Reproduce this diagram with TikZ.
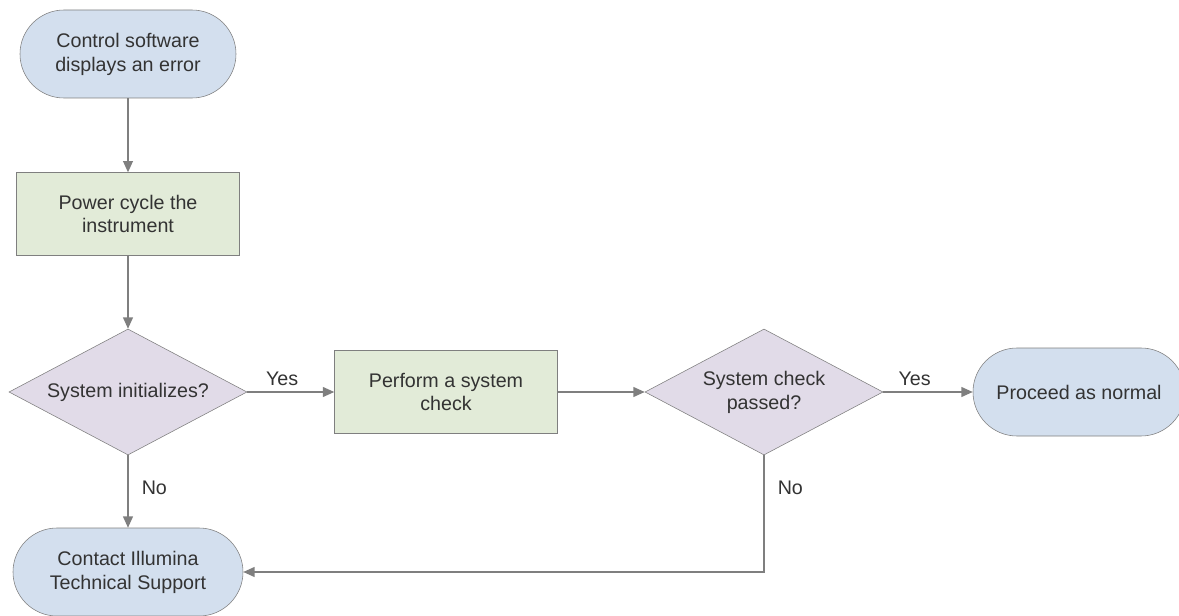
\documentclass[tikz,border=0pt]{standalone}
\usepackage{fontspec}
\setmainfont{Liberation Sans}
\usetikzlibrary{shapes.geometric,arrows.meta}
\definecolor{termfill}{HTML}{D3DFEE}
\definecolor{stepfill}{HTML}{E2EBD8}
\definecolor{askfill}{HTML}{E1DBE8}
\definecolor{edgegray}{HTML}{7F7F7F}
\definecolor{txt}{HTML}{333333}
\begin{document}
\begin{tikzpicture}[every node/.style={font=\fontsize{14}{17}\selectfont,text=txt},
  termbox/.style={draw=edgegray,fill=termfill,rounded corners=1.1cm,minimum width=5.4cm,minimum height=2.2cm,align=center},
  stepbox/.style={draw=edgegray,fill=stepfill,minimum width=5.575cm,minimum height=2.07cm,align=center},
  askbox/.style={draw=edgegray,fill=askfill,diamond,aspect=1.9,inner sep=0pt,minimum width=5.95cm,minimum height=3.15cm,align=center},
  flow/.style={edgegray,line width=0.9pt,-{Triangle[width=7pt,length=8pt]}}]
\useasboundingbox (0,0) rectangle (29.475,15.375);
\node[termbox] (start) at (3.2,14.025) {Control software\\displays an error};
\node[stepbox] (power) at (3.2,10.025) {Power cycle the\\instrument};
\node[askbox] (init) at (3.2,5.575) {System initializes?};
\node[stepbox] (check) at (11.15,5.575) {Perform a system\\check};
\node[askbox] (passed) at (19.1,5.575) {System check\\passed?};
\node[termbox,minimum width=5.3cm] (normal) at (26.975,5.575) {Proceed as normal};
\node[termbox,minimum width=5.75cm] (support) at (3.2,1.075) {Contact Illumina\\Technical Support};
\draw[flow] (start) -- (power);
\draw[flow] (power) -- (init);
\draw[flow] (init) -- (check) node[pos=0.4,above=1pt] (yes1) {Yes};
\draw[flow] (check) -- (passed);
\draw[flow] (passed) -- (normal) node[pos=0.35,above=1pt] (yes2) {Yes};
\draw[flow] (init) -- (support) node[pos=0.45,right=6pt] (no1) {No};
\draw[flow] (passed.south) |- (support.east) node[pos=0.14,right=6pt] (no2) {No};
\end{tikzpicture}
\end{document}
